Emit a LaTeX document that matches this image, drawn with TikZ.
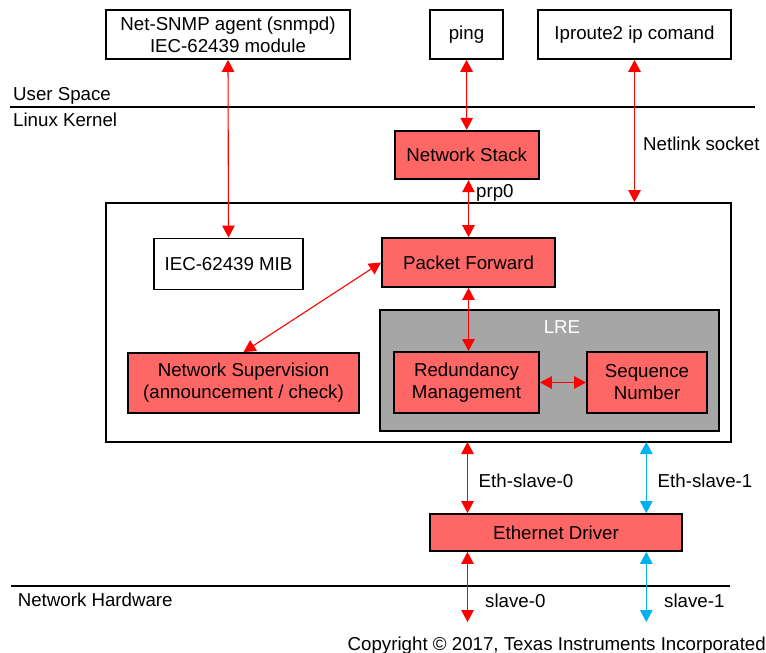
\documentclass[tikz,border=0pt]{standalone}
\usepackage{fontspec}
\setmainfont{Liberation Sans}
\usetikzlibrary{arrows.meta}
\definecolor{boxred}{HTML}{FF6666}
\definecolor{arrred}{HTML}{FF0000}
\definecolor{arrblue}{HTML}{00B0F0}
\definecolor{lregray}{HTML}{A6A6A6}
\begin{document}
\begin{tikzpicture}[x=1pt,y=-1pt,
  every node/.style={font=\fontsize{18.7}{22}\selectfont, inner sep=0pt},
  whitebox/.style={draw=black, line width=1.8pt, fill=white, align=center},
  redbox/.style={draw=black, line width=1.8pt, fill=boxred, align=center},
  biarrow/.style={draw=arrred, line width=1.1pt, {Triangle[width=12.5pt,length=12pt]}-{Triangle[width=12.5pt,length=12pt]}},
  bluearrow/.style={biarrow, draw=arrblue},
  lbl/.style={anchor=base west},
  sepline/.style={line width=1.8pt}]
\useasboundingbox (0,0) rectangle (766,653);
% top boxes
\node[whitebox, minimum width=244pt, minimum height=49pt] (snmp) at (228,34.5) {Net-SNMP agent (snmpd)\\IEC-62439 module};
\node[whitebox, minimum width=73pt, minimum height=49pt] (ping) at (466.5,34.5) {ping};
\node[whitebox, minimum width=193pt, minimum height=49pt] (ipr) at (634.5,34.5) {Iproute2 ip comand};
% separator lines
\coordinate (us1) at (10,107);
\coordinate (us2) at (755,107);
\draw[sepline] (us1) -- (us2);
\node[lbl] (userspace) at (13,100.4) {User Space};
\node[lbl] (kernel) at (13,126.5) {Linux Kernel};
% network stack
\node[redbox, minimum width=144pt, minimum height=48.6pt] (ns) at (466.7,155) {Network Stack};
% main box
\node[draw=black, line width=1.8pt, minimum width=625pt, minimum height=239pt] (main) at (418.5,322.5) {};
% LRE
\node[draw=black, line width=1.8pt, fill=lregray, minimum width=339pt, minimum height=121pt] (lre) at (549.5,370.5) {};
\node[text=white] (lrelbl) at (562,327) {LRE};
% inner boxes
\node[redbox, minimum width=173pt, minimum height=49pt] (pf) at (468.5,262.5) {Packet Forward};
\node[whitebox, minimum width=149pt, minimum height=51pt] (mib) at (228.5,264) {IEC-62439 MIB};
\node[redbox, minimum width=231pt, minimum height=60pt] (nsup) at (243.5,383) {Network Supervision\\(announcement / check)};
\node[redbox, minimum width=145pt, minimum height=61pt] (rm) at (466.5,382.5) {Redundancy\\Management};
\node[redbox, minimum width=120pt, minimum height=61pt] (sn) at (647,382.5) {Sequence\\Number};
% ethernet driver
\node[redbox, minimum width=252pt, minimum height=37pt] (ed) at (556,532.5) {Ethernet Driver};
% hardware line
\coordinate (hw1) at (10.7,586);
\coordinate (hw2) at (730,586);
\draw[sepline] (hw1) -- (hw2);
\node[lbl] (hwlbl) at (17.6,606.5) {Network Hardware};
% arrows top
\draw[biarrow] (snmp.south) -- (mib.north);
\draw[biarrow] (ping.south) -- (ns.north);
\draw[biarrow] (ipr.south) -- (ipr.south |- main.north);
\node[lbl] (netlink) at (643,150) {Netlink socket};
\draw[biarrow] (pf.north |- ns.south) -- (pf.north);
\node[lbl] (prp0) at (476,197) {prp0};
\draw[biarrow] (pf.west) -- (nsup.north);
\draw[biarrow] (pf.south) -- (pf.south |- rm.north);
\draw[biarrow] (rm.east) -- (sn.west);
% eth slaves
\coordinate (e0) at (467.5,442);
\coordinate (e1) at (646.3,442);
\draw[biarrow] (e0) -- (e0 |- ed.north);
\draw[bluearrow] (e1) -- (e1 |- ed.north);
\node[lbl] (es0) at (478.5,487) {Eth-slave-0};
\node[lbl] (es1) at (657.5,487) {Eth-slave-1};
\coordinate (s0) at (467.5,622);
\coordinate (s1) at (646.3,622);
\draw[biarrow] (s0 |- ed.south) -- (s0);
\draw[bluearrow] (s1 |- ed.south) -- (s1);
\node[lbl] (sl0) at (485,607) {slave-0};
\node[lbl] (sl1) at (664,607) {slave-1};
\node[anchor=base east] (copy) at (766,650) {Copyright © 2017, Texas Instruments Incorporated};
\end{tikzpicture}
\end{document}
